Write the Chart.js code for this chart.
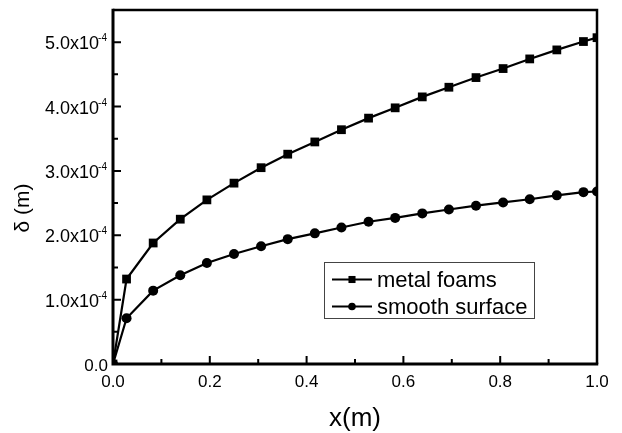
<!DOCTYPE html>
<html>
<head>
<meta charset="utf-8">
<script src="https://cdn.jsdelivr.net/npm/chart.js@4/dist/chart.umd.min.js"></script>
<style>
  html, body { margin: 0; padding: 0; background: #fff; }
  canvas { display: block; }
</style>
</head>
<body>
<canvas id="chart" width="622" height="433"></canvas>
<script>
// Distance along the plate, x (m)
const xPositions = [0, 0.028, 0.083, 0.139, 0.194, 0.25, 0.306, 0.361, 0.417, 0.472,
                    0.528, 0.583, 0.639, 0.694, 0.75, 0.806, 0.861, 0.917, 0.972, 1.0];

// Boundary-layer thickness δ (m)
const metalFoams = [0, 1.32e-4, 1.88e-4, 2.25e-4, 2.55e-4, 2.81e-4, 3.05e-4, 3.26e-4, 3.45e-4, 3.64e-4,
                    3.82e-4, 3.98e-4, 4.15e-4, 4.30e-4, 4.45e-4, 4.59e-4, 4.74e-4, 4.88e-4, 5.01e-4, 5.07e-4];
const smoothSurface = [0, 0.71e-4, 1.14e-4, 1.38e-4, 1.57e-4, 1.71e-4, 1.83e-4, 1.94e-4, 2.03e-4, 2.12e-4,
                       2.21e-4, 2.27e-4, 2.34e-4, 2.40e-4, 2.46e-4, 2.51e-4, 2.56e-4, 2.62e-4, 2.67e-4, 2.68e-4];

const seriesNames = ['metal foams', 'smooth surface'];

// Axis ticks
const xMajorTicks = [0, 0.2, 0.4, 0.6, 0.8, 1.0];
const xMinorTicks = [0.1, 0.3, 0.5, 0.7, 0.9];
const xTickLabels = ['0.0', '0.2', '0.4', '0.6', '0.8', '1.0'];
const yMajorTicks = [0, 1e-4, 2e-4, 3e-4, 4e-4, 5e-4];
const yMinorTicks = [0.5e-4, 1.5e-4, 2.5e-4, 3.5e-4, 4.5e-4];
const yTickMantissas = ['0.0', '1.0', '2.0', '3.0', '4.0', '5.0'];
const yTickExponent = '-4';

const xTitle = 'x(m)';
const yTitle = 'δ (m)';

const FONT = '"Liberation Sans", Arial, Helvetica, sans-serif';

function toPoints(xs, ys) {
  return xs.map((x, i) => ({ x: x, y: ys[i] }));
}

function drawMarker(ctx, style, x, y, r) {
  ctx.beginPath();
  if (style === 'rect') {
    const s = r * Math.SQRT1_2;
    ctx.rect(x - s, y - s, 2 * s, 2 * s);
  } else {
    ctx.arc(x, y, r, 0, Math.PI * 2);
  }
  ctx.fill();
}

// Frame, inward ticks, tick labels, axis titles and the boxed legend
const framePlugin = {
  id: 'frameAndLabels',
  afterDatasetsDraw(chart) {
    const ctx = chart.ctx;
    const area = chart.chartArea;
    const xs = chart.scales.x;
    const ys = chart.scales.y;
    ctx.save();
    ctx.strokeStyle = '#000';
    ctx.fillStyle = '#000';
    ctx.lineCap = 'butt';

    // top and right borders
    ctx.lineWidth = 2.5;
    ctx.beginPath();
    ctx.moveTo(area.left, area.top);
    ctx.lineTo(area.right, area.top);
    ctx.lineTo(area.right, area.bottom);
    ctx.stroke();

    // left and bottom axes
    ctx.lineWidth = 3;
    ctx.beginPath();
    ctx.moveTo(area.left, area.top - 1.25);
    ctx.lineTo(area.left, area.bottom);
    ctx.lineTo(area.right + 1.25, area.bottom);
    ctx.stroke();

    // inward ticks
    ctx.lineWidth = 2;
    ctx.beginPath();
    xMajorTicks.forEach(v => {
      const px = xs.getPixelForValue(v);
      ctx.moveTo(px, area.bottom);
      ctx.lineTo(px, area.bottom - 8);
    });
    xMinorTicks.forEach(v => {
      const px = xs.getPixelForValue(v);
      ctx.moveTo(px, area.bottom);
      ctx.lineTo(px, area.bottom - 5);
    });
    yMajorTicks.forEach(v => {
      const py = ys.getPixelForValue(v);
      ctx.moveTo(area.left, py);
      ctx.lineTo(area.left + 8, py);
    });
    yMinorTicks.forEach(v => {
      const py = ys.getPixelForValue(v);
      ctx.moveTo(area.left, py);
      ctx.lineTo(area.left + 5, py);
    });
    ctx.stroke();

    // x tick labels
    ctx.font = '17px ' + FONT;
    ctx.textAlign = 'center';
    ctx.textBaseline = 'alphabetic';
    xMajorTicks.forEach((v, i) => {
      ctx.fillText(xTickLabels[i], xs.getPixelForValue(v), area.bottom + 23);
    });

    // y tick labels: mantissa x 10 with a raised exponent
    const labelRight = area.left - 6;
    yMajorTicks.forEach((v, i) => {
      const py = ys.getPixelForValue(v);
      const base = py + 7;
      ctx.textAlign = 'right';
      if (v === 0) {
        ctx.font = '17px ' + FONT;
        ctx.fillText(yTickMantissas[i], labelRight + 1, base);
        return;
      }
      ctx.font = '10px ' + FONT;
      const expW = ctx.measureText(yTickExponent).width;
      ctx.fillText(yTickExponent, labelRight, base - 8);
      ctx.font = '18px ' + FONT;
      ctx.fillText(yTickMantissas[i] + 'x10', labelRight - expW + 1, base);
    });

    // axis titles
    ctx.textAlign = 'center';
    ctx.font = '26px ' + FONT;
    ctx.fillText(xTitle, (area.left + area.right) / 2, 426);

    ctx.save();
    ctx.translate(29, 208);
    ctx.rotate(-Math.PI / 2);
    ctx.font = '21px ' + FONT;
    ctx.textBaseline = 'alphabetic';
    ctx.fillText(yTitle, 0, 0);
    ctx.restore();

    // legend box
    const box = { left: 324, top: 262, right: 534, bottom: 318 };
    ctx.fillStyle = '#fff';
    ctx.fillRect(box.left, box.top, box.right - box.left, box.bottom - box.top);
    ctx.strokeStyle = '#444';
    ctx.lineWidth = 1;
    ctx.strokeRect(box.left + 0.5, box.top + 0.5, box.right - box.left, box.bottom - box.top);

    const rows = [279.5, 306.5];
    ctx.font = '22px ' + FONT;
    ctx.textAlign = 'left';
    ctx.textBaseline = 'middle';
    chart.data.datasets.forEach((ds, i) => {
      const y = rows[i];
      ctx.strokeStyle = '#000';
      ctx.fillStyle = '#000';
      ctx.lineWidth = 1.8;
      ctx.beginPath();
      ctx.moveTo(332, y);
      ctx.lineTo(372, y);
      ctx.stroke();
      drawMarker(ctx, ds.pointStyle, 352, y, ds.pointStyle === 'rect' ? 5 : 3.8);
      ctx.fillText(ds.label, 377, y + 1);
    });

    ctx.restore();
  }
};

new Chart(document.getElementById('chart'), {
  type: 'scatter',
  data: {
    datasets: [
      {
        label: seriesNames[0],
        data: toPoints(xPositions, metalFoams),
        showLine: true,
        borderColor: '#000',
        backgroundColor: '#000',
        borderWidth: 2.2,
        pointStyle: 'rect',
        pointRadius: 6.2,
        pointBorderWidth: 0,
        clip: 0
      },
      {
        label: seriesNames[1],
        data: toPoints(xPositions, smoothSurface),
        showLine: true,
        borderColor: '#000',
        backgroundColor: '#000',
        borderWidth: 2.2,
        pointStyle: 'circle',
        pointRadius: 5,
        pointBorderWidth: 0,
        clip: 0
      }
    ]
  },
  options: {
    responsive: false,
    animation: false,
    devicePixelRatio: 1,
    layout: { padding: { left: 113, top: 10, right: 25, bottom: 69 } },
    plugins: {
      legend: { display: false },
      tooltip: { enabled: false }
    },
    scales: {
      x: { type: 'linear', min: 0, max: 1, display: false },
      y: { type: 'linear', min: 0, max: 5.5e-4, display: false }
    }
  },
  plugins: [framePlugin]
});
</script>
</body>
</html>
